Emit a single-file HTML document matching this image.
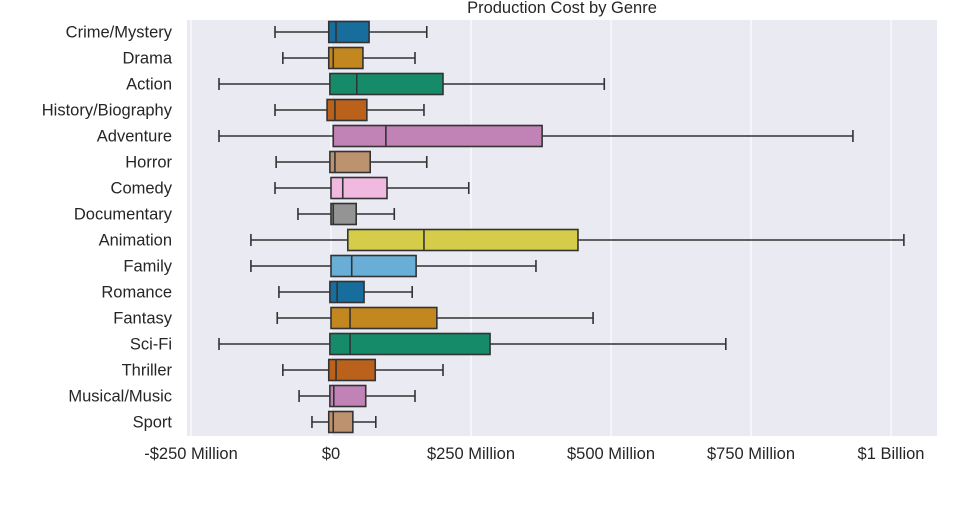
<!DOCTYPE html>
<html><head><meta charset="utf-8"><style>
body{margin:0;background:#fff;}
svg text{font-family:"Liberation Sans",Arial,sans-serif;fill:#262626;}
</style></head><body>
<svg id="chart" width="957" height="504" xmlns="http://www.w3.org/2000/svg">
<rect x="187" y="20" width="750" height="416" fill="#eaeaf2"/>
<g id="grid"></g>
<g id="boxes"></g>
<g id="ylabels"></g>
<g id="xlabels"></g>
<text x="562" y="13" font-size="16.5" text-anchor="middle">Production Cost by Genre</text>
</svg>
<script>
const genres=["Crime/Mystery","Drama","Action","History/Biography","Adventure","Horror","Comedy","Documentary","Animation","Family","Romance","Fantasy","Sci-Fi","Thriller","Musical/Music","Sport"];
const whiskerLow=[-100,-86,-200,-100,-200,-98,-100,-59,-143,-143,-93,-96,-200,-86,-57,-34];
const q1=[-4,-4,-2,-7,4,-2,0,0,30,0,-2,0,-2,-4,-2,-4];
const median=[9,4,46,7,98,7,21,4,166,37,11,34,34,9,5,4];
const q3=[68,57,200,64,377,70,100,45,441,152,59,189,284,79,62,39];
const whiskerHigh=[171,150,488,166,932,171,246,113,1023,366,145,468,705,200,150,80];
const tickValues=[-250,0,250,500,750,1000];
const tickLabels=["-$250 Million","$0","$250 Million","$500 Million","$750 Million","$1 Billion"];
const palette=["#176e9c","#c38720","#168b6a","#ba611b","#c182b5","#bd926e","#f1b9e0","#949494","#d5cc4a","#68aed7"];
const NS="http://www.w3.org/2000/svg";
const xs=v=>331+v*0.56;
const ys=i=>32+i*26;
function mk(tag,attrs,parent){const e=document.createElementNS(NS,tag);for(const k in attrs)e.setAttribute(k,attrs[k]);parent.appendChild(e);return e;}
const grid=document.getElementById('grid'),boxes=document.getElementById('boxes'),yl=document.getElementById('ylabels'),xl=document.getElementById('xlabels');
tickValues.forEach((v,i)=>{
 const l=mk('line',{x1:xs(v),x2:xs(v),y1:20,y2:436,stroke:'#fff','stroke-width':1.2},grid);
 
 
 const t=mk('text',{x:xs(v),y:459,'font-size':16.5,'text-anchor':'middle'},xl);
 t.textContent=tickLabels[i];
 
 
});
const sc='#333333';
genres.forEach((g,i)=>{
 const y=ys(i),h=21,cap=6;
 const grp=mk('g',{},boxes);
 
 
 mk('line',{x1:xs(whiskerLow[i]),x2:xs(q1[i]),y1:y,y2:y,stroke:sc,'stroke-width':1.6},grp);
 mk('line',{x1:xs(q3[i]),x2:xs(whiskerHigh[i]),y1:y,y2:y,stroke:sc,'stroke-width':1.6},grp);
 mk('line',{x1:xs(whiskerLow[i]),x2:xs(whiskerLow[i]),y1:y-cap,y2:y+cap,stroke:sc,'stroke-width':1.6},grp);
 mk('line',{x1:xs(whiskerHigh[i]),x2:xs(whiskerHigh[i]),y1:y-cap,y2:y+cap,stroke:sc,'stroke-width':1.6},grp);
 mk('rect',{x:xs(q1[i]),y:y-h/2,width:xs(q3[i])-xs(q1[i]),height:h,fill:palette[i%10],stroke:sc,'stroke-width':1.6},grp);
 mk('line',{x1:xs(median[i]),x2:xs(median[i]),y1:y-h/2,y2:y+h/2,stroke:sc,'stroke-width':1.6},grp);
 const t=mk('text',{x:172,y:y+5.5,'font-size':16.5,'text-anchor':'end'},yl);
 t.textContent=g;
 
 
});
</script>
</body></html>
